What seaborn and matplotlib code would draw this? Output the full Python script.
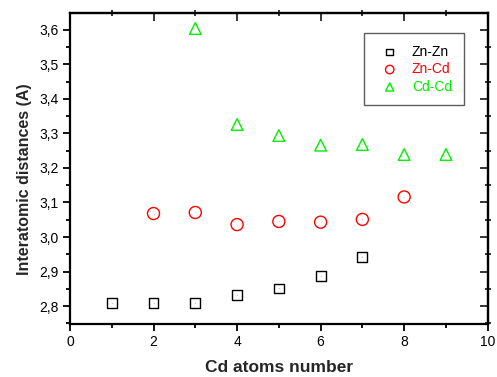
import matplotlib
matplotlib.use("Agg")
import matplotlib.pyplot as plt
import seaborn as sns
import pandas as pd
from matplotlib.ticker import MultipleLocator, FuncFormatter

sns.set_theme(style="ticks")
plt.rcParams['font.family'] = ['Liberation Sans', 'DejaVu Sans']

zn_zn_x = [1, 2, 3, 4, 5, 6, 7]
zn_zn_y = [2.808, 2.808, 2.808, 2.832, 2.851, 2.887, 2.941]
zn_cd_x = [2, 3, 4, 5, 6, 7, 8]
zn_cd_y = [3.068, 3.071, 3.036, 3.045, 3.043, 3.051, 3.116]
cd_cd_x = [3, 4, 5, 6, 7, 8, 9]
cd_cd_y = [3.604, 3.326, 3.294, 3.266, 3.268, 3.239, 3.239]

series = [
    ("Zn-Zn", zn_zn_x, zn_zn_y, "#000000", "s", 50),
    ("Zn-Cd", zn_cd_x, zn_cd_y, "#ff0000", "o", 75),
    ("Cd-Cd", cd_cd_x, cd_cd_y, "#00ee00", "^", 70),
]

fig = plt.figure(figsize=(4.97, 3.77), dpi=100)
ax = fig.add_axes([0.1408, 0.1406, 0.9813 - 0.1408, 0.9647 - 0.1406])

for name, xs, ys, col, mk, s in series:
    df = pd.DataFrame({"x": xs, "y": ys})
    sns.scatterplot(data=df, x="x", y="y", ax=ax, marker=mk, s=s,
                    facecolors="none", edgecolor=col, linewidth=1.0,
                    color=col, label=name)
    sns.scatterplot(data=df, x="x", y="y", ax=ax, marker=".", s=1,
                    color=col, linewidth=0, legend=False)

ax.set_xlim(0, 10)
ax.set_ylim(2.748, 3.648)
ax.xaxis.set_major_locator(MultipleLocator(2))
ax.xaxis.set_minor_locator(MultipleLocator(1))
ax.yaxis.set_major_locator(MultipleLocator(0.1))
ax.yaxis.set_minor_locator(MultipleLocator(0.05))
ax.yaxis.set_major_formatter(FuncFormatter(lambda v, p: f"{v:.1f}".replace(".", ",")))
ax.xaxis.set_major_formatter(FuncFormatter(lambda v, p: f"{v:.0f}"))

for sp in ax.spines.values():
    sp.set_visible(True)
    sp.set_linewidth(1.6)
    sp.set_color("black")

ax.tick_params(which="both", direction="out", width=1.3, colors="black",
               labelsize=10, top=False, right=False)
ax.tick_params(which="major", length=5, pad=3)
ax.tick_params(which="minor", length=3)
ax2 = ax.secondary_xaxis("top")
ax2.xaxis.set_major_locator(MultipleLocator(2))
ax2.xaxis.set_minor_locator(MultipleLocator(1))
ax2.tick_params(which="major", direction="in", width=1.3, length=6, labeltop=False)
ax2.tick_params(which="minor", direction="inout", width=1.3, length=4, labeltop=False)
ax2.spines["top"].set_linewidth(1.6)
ax3 = ax.secondary_yaxis("right")
ax3.yaxis.set_major_locator(MultipleLocator(0.1))
ax3.yaxis.set_minor_locator(MultipleLocator(0.05))
ax3.tick_params(which="major", direction="in", width=1.3, length=6, labelright=False)
ax3.tick_params(which="minor", direction="inout", width=1.3, length=4, labelright=False)
ax3.spines["right"].set_linewidth(1.6)

ax.set_xlabel("Cd atoms number", fontsize=12.5, fontweight="bold", labelpad=8)
ax.set_ylabel("Interatomic distances (A)", fontsize=11.5, fontweight="bold")
ax.yaxis.set_label_coords(-0.09, 0.467)

leg = ax.legend(loc="upper right", bbox_to_anchor=(0.943, 0.937), borderaxespad=0,
                frameon=True, fancybox=False, edgecolor="#333333", fontsize=10,
                handletextpad=0.6, borderpad=0.85, labelspacing=0.25, markerscale=0.7)
leg.get_frame().set_linewidth(1.0)
for txt, (_, _, _, col, _, _) in zip(leg.get_texts(), series):
    txt.set_color(col)

fig.savefig("out.png", dpi=100)
